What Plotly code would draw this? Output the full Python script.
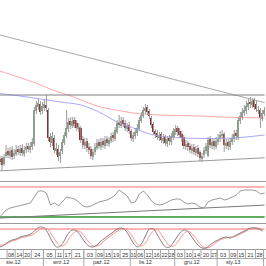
import pandas as pd
import plotly.graph_objects as go

# ---------------- data ----------------
dates = pd.bdate_range("2012-08-01", "2013-02-01")  # 133 sessions

open_ = [37,41,42,36,44,49,44,50,44,46,51,47,52,46,50,54,50,53,56,89,
         93,96,89,92,95,90,63,57,62,49,51,44,49,57,64,71,79,74,80,77,
         71,72,61,54,59,53,51,43,48,52,58,53,59,54,61,56,59,65,61,68,
         78,74,80,77,71,75,69,61,64,67,71,79,84,89,93,89,82,76,69,67,
         62,66,59,63,56,62,58,63,68,72,69,66,63,53,57,54,49,53,47,52,
         48,41,45,49,44,61,54,59,53,58,61,64,66,54,58,53,58,61,67,62,
         79,83,87,89,93,98,95,100,96,89,90,81,86]
high = [43,44,44,46,55,52,53,54,51,55,54,55,56,54,57,57,58,62,93,99,
        101,99,98,100,105,92,67,68,65,57,55,51,61,68,90,82,83,83,83,80,
        77,74,64,62,62,57,54,51,57,61,61,62,62,64,64,63,67,68,73,80,
        85,83,83,80,77,78,71,68,72,76,83,88,93,96,95,91,84,78,71,70,
        68,68,66,65,64,65,67,72,75,74,72,69,65,60,59,57,56,56,54,55,
        50,47,53,57,63,64,62,61,63,66,69,70,68,61,61,62,66,70,70,83,
        88,92,95,99,101,103,102,102,99,94,92,90,93]
low = [34,35,29,34,42,42,41,40,41,44,45,44,44,43,47,48,47,50,54,86,
       90,85,86,89,88,59,53,54,47,45,39,37,46,55,62,68,71,72,72,69,
       68,57,51,51,48,46,41,40,45,50,51,50,52,51,54,53,57,58,59,66,
       72,72,73,69,68,66,59,58,61,64,69,77,82,86,85,81,72,65,62,60,
       59,57,56,54,53,55,55,60,65,64,62,58,51,50,49,47,46,45,44,43,
       39,38,42,46,43,52,51,50,51,55,58,61,48,51,50,50,55,58,60,60,
       76,80,84,86,90,92,92,90,88,86,72,79,84]
close = [40,38,35,43,48,45,49,43,47,50,48,51,47,50,53,51,54,58,90,95,
         97,88,94,96,92,62,58,64,50,52,43,48,58,65,72,78,75,79,76,72,
         73,60,55,58,52,50,44,48,53,57,54,58,55,60,57,60,64,62,70,77,
         75,79,76,72,74,69,62,65,68,72,80,85,90,92,88,84,75,68,66,63,
         65,60,62,57,61,59,64,69,71,68,65,62,54,56,53,50,52,48,51,46,
         42,44,50,54,60,55,58,54,59,62,65,66,55,57,54,59,62,66,64,80,
         84,88,90,94,97,96,99,93,91,90,82,87,90]

ma_red_idx = [0, 10, 20, 27, 34, 40, 50, 60, 67, 80, 90, 100, 110, 120, 132]
ma_red_val = [129.5, 123, 116, 110, 105.5, 101, 93.5, 89.5, 87, 85, 84.5, 84, 83, 82.5, 82]
ma_blue_idx = [0, 11, 21, 31, 41, 50, 59, 67, 77, 92, 116, 132]
ma_blue_val = [106.7, 104, 101, 98, 95, 88, 78, 72, 65, 62, 62, 65]

# drawn lines on the price panel
trend_down_idx = [0, 132]
trend_down_val = [165.5, 97.4]
resist_idx = [0, 132]
resist_val = [105, 105]
support_idx = [0, 132]
support_val = [29.1, 42.2]

# oscillator 1 (RSI-like), every second session
rsi_idx = list(range(0, 133, 2))
rsi_val = [27.3,34,39.3,42,43.3,44.7,46,47.3,48.7,56.7,64.7,64.7,62,46,48.7,44.7,
           51.3,56.7,55.3,54,50,44.7,43.3,44.7,47.3,50,51.3,52.7,55.3,59.3,66,62,
           58,48.7,50,60.7,64.7,59.3,51.3,47.3,46,47.3,50,52.7,54,54,50,47.3,
           48.7,47.3,43.3,42,50,52.7,54,55.3,52.7,54,56.7,59.3,64.7,66,66,66,
           64.7,60.7,62]
rsi_levels = [70, 30]
rsi_trend_idx = [0, 132]
rsi_trend_val = [28.5, 45.9]

# oscillator 2 (stochastic), every second session
sto_idx = list(range(1, 133, 2))
sto_k = [8,16,28,36,40,48,52,56,64,80,88,84,60,28,8,12,36,64,76,72,52,28,12,8,
         16,32,44,56,68,80,84,76,52,24,8,20,52,80,80,56,28,8,8,28,52,72,76,60,
         36,16,4,4,16,28,36,44,48,44,52,60,68,76,84,84,80,72]
sto_d = [16,16,24,32,36,44,48,52,56,68,80,84,76,52,28,12,16,40,60,72,68,48,28,12,
         12,20,36,48,60,72,80,80,68,44,20,12,24,52,72,76,56,32,12,12,28,52,68,68,
         52,32,12,4,8,20,32,40,44,48,48,56,64,72,80,84,84,76]
sto_levels = [80]

# axis labels
day_label_dates = ["2012-08-01","2012-08-08","2012-08-14","2012-08-20","2012-08-24",
                   "2012-09-05","2012-09-11","2012-09-17","2012-09-21",
                   "2012-10-03","2012-10-09","2012-10-15","2012-10-19","2012-10-25",
                   "2012-11-01","2012-11-06","2012-11-12","2012-11-16","2012-11-22","2012-11-28",
                   "2012-12-03","2012-12-10","2012-12-14","2012-12-20","2012-12-27",
                   "2013-01-03","2013-01-09","2013-01-15","2013-01-21","2013-01-28",
                   "2013-02-01"]
month_names = {8: "sie.12", 9: "wrz.12", 10: "paź.12", 11: "lis.12", 12: "gru.12", 1: "sty.13", 2: "lut.13"}

# ---------------- geometry ----------------
W, H = 266, 266
B = 17
PH = H - B  # plot-area height in px


def py(p):
    return 1 - p / PH


n = len(dates)
idx = list(range(n))
pos = {d: i for i, d in enumerate(dates)}

mstart = [0] + [i for i in range(1, n) if dates[i].month != dates[i - 1].month]

cell_start = []
for ds in day_label_dates:
    d = pd.Timestamp(ds)
    i = pos[d]
    first_in_month = [m for m in mstart if dates[m].month == d.month and dates[m].year == d.year][0]
    prev_labels = [pd.Timestamp(x) for x in day_label_dates if pd.Timestamp(x) < d
                   and pd.Timestamp(x).month == d.month]
    cell_start.append(first_in_month if not prev_labels else i)
cell_end = [s - 1 for s in cell_start[1:]] + [n - 1]
centers = [(a + b) / 2 for a, b in zip(cell_start, cell_end)]
texts = [pd.Timestamp(d).strftime("%d") for d in day_label_dates]

fig = go.Figure()

# price panel lines
fig.add_trace(go.Scatter(x=ma_red_idx, y=ma_red_val, mode="lines", line=dict(color="#ffa8a8", width=1, shape="spline"), xaxis="x", yaxis="y"))
fig.add_trace(go.Scatter(x=ma_blue_idx, y=ma_blue_val, mode="lines", line=dict(color="#a8a8ff", width=1, shape="spline"), xaxis="x", yaxis="y"))

wx, wy = [], []
for i in idx:
    wx += [i, i, None]
    wy += [low[i], high[i], None]
fig.add_trace(go.Scatter(x=wx, y=wy, mode="lines", line=dict(color="#9a9a9a", width=1), xaxis="x", yaxis="y"))
base = [min(o, c) for o, c in zip(open_, close)]
hgt = [max(abs(c - o), 0.8) for o, c in zip(open_, close)]
cols = ["#86a386" if c >= o else "#962828" for o, c in zip(open_, close)]
fig.add_trace(go.Bar(x=idx, y=hgt, base=base, marker=dict(color=cols, line=dict(width=0)), width=0.8, xaxis="x", yaxis="y"))

fig.add_trace(go.Scatter(x=trend_down_idx, y=trend_down_val, mode="lines", line=dict(color="#a8a8a8", width=1), xaxis="x", yaxis="y"))
fig.add_trace(go.Scatter(x=resist_idx, y=resist_val, mode="lines", line=dict(color="#808080", width=1), xaxis="x", yaxis="y"))
fig.add_trace(go.Scatter(x=support_idx, y=support_val, mode="lines", line=dict(color="#999999", width=1), xaxis="x", yaxis="y"))

# oscillator 1
fig.add_trace(go.Scatter(x=[0, n - 1], y=[rsi_levels[0]] * 2, mode="lines", line=dict(color="#ff9a9a", width=1.5), xaxis="x2", yaxis="y2"))
fig.add_trace(go.Scatter(x=[0, n - 1], y=[rsi_levels[1]] * 2, mode="lines", line=dict(color="#5fae5f", width=2), xaxis="x2", yaxis="y2"))
fig.add_trace(go.Scatter(x=rsi_trend_idx, y=rsi_trend_val, mode="lines", line=dict(color="#7a7a7a", width=1), xaxis="x2", yaxis="y2"))
fig.add_trace(go.Scatter(x=rsi_idx, y=rsi_val, mode="lines", line=dict(color="#999999", width=1), xaxis="x2", yaxis="y2"))

# oscillator 2
fig.add_trace(go.Scatter(x=[0, n - 1], y=[sto_levels[0]] * 2, mode="lines", line=dict(color="#ff9a9a", width=1.5), xaxis="x3", yaxis="y3"))
fig.add_trace(go.Scatter(x=sto_idx, y=sto_d, mode="lines", line=dict(color="#ff9090", width=1, shape="spline"), xaxis="x3", yaxis="y3"))
fig.add_trace(go.Scatter(x=sto_idx, y=sto_k, mode="lines", line=dict(color="#808080", width=1, shape="spline"), xaxis="x3", yaxis="y3"))

XR = [1.0, 132.7]
ax_common = dict(range=XR, showgrid=False, zeroline=False, showline=True, linecolor="#9a9a9a", linewidth=1, ticks="")
ya_common = dict(showgrid=False, zeroline=False, showticklabels=False, ticks="", fixedrange=True)

ROW_SEP = 258.5
shapes = []
for s in cell_start:
    shapes.append(dict(type="line", xref="x3", yref="paper", x0=s - 0.5, x1=s - 0.5, y0=0, y1=py(ROW_SEP), line=dict(color="#a8a8a8", width=1)))
for m in mstart:
    shapes.append(dict(type="line", xref="x3", yref="paper", x0=m - 0.5, x1=m - 0.5, y0=0, y1=py(H), line=dict(color="#a8a8a8", width=1)))
shapes.append(dict(type="line", xref="paper", yref="paper", x0=0, x1=1, y0=py(ROW_SEP), y1=py(ROW_SEP), line=dict(color="#a8a8a8", width=1)))

annotations = []
for m in mstart:
    d = dates[m]
    annotations.append(dict(x=m + 3.0, y=py(262.3), xref="x3", yref="paper", text=month_names[d.month], showarrow=False,
                            xanchor="left", yanchor="middle", font=dict(size=5.5, color="#333333", family="Liberation Sans")))

fig.update_layout(
    width=W, height=H, margin=dict(l=0, r=0, t=0, b=B),
    paper_bgcolor="white", plot_bgcolor="white", showlegend=False, bargap=0,
    xaxis=dict(**ax_common, anchor="y", showticklabels=False),
    xaxis2=dict(**ax_common, anchor="y2", matches="x", showticklabels=False),
    xaxis3=dict(**ax_common, anchor="y3", matches="x", tickmode="array", tickvals=centers, ticktext=texts,
                tickangle=0, tickfont=dict(size=5.5, color="#333333", family="Liberation Sans"), ticklabelstandoff=0),
    yaxis=dict(**ya_common, domain=[py(181), 1], range=[19, 200]),
    yaxis2=dict(**ya_common, domain=[py(223), py(182)], range=[22, 76.67]),
    yaxis3=dict(**ya_common, domain=[0, py(224)], range=[0, 100]),
    shapes=shapes, annotations=annotations,
)

fig.write_html("out.html")
